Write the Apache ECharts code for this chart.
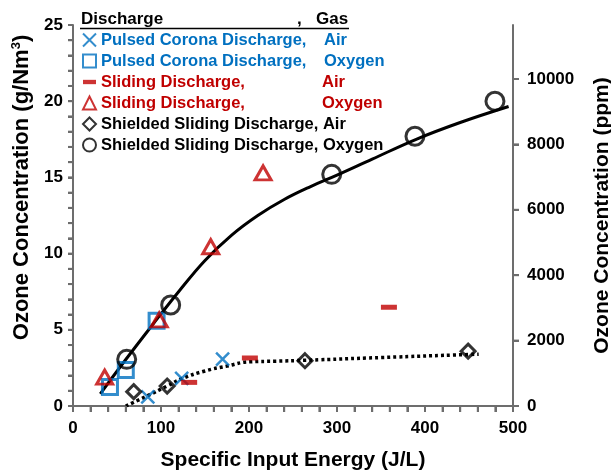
<!DOCTYPE html>
<html>
<head>
<meta charset="utf-8">
<script src="https://cdn.jsdelivr.net/npm/echarts@6/dist/echarts.min.js"></script>
<style>
  html, body { margin: 0; padding: 0; background: #fff; }
  #chart { width: 611px; height: 471px; }
</style>
</head>
<body>
<div id="chart"></div>
<script>
// measured points [energy J/L, ozone g/Nm3]
var pulsedAir = [[85, 0.6], [123.5, 1.82], [170, 3.08]];
var pulsedO2 = [[42, 1.25], [60, 2.36], [95, 5.6]];
var slidingAir = [[132, 1.55], [201, 3.15], [359, 6.48]];
var slidingO2 = [[36, 1.9], [98, 5.65], [156.5, 10.45], [216, 15.3]];
var shieldedAir = [[69, 0.94], [107, 1.31], [263.6, 2.97], [449, 3.6]];
var shieldedO2 = [[61, 3.06], [111, 6.63], [294, 15.2], [388.6, 17.7], [479.5, 20.0]];

// trend lines
var fitO2 = [[31, 0.8], [60, 3.05], [90, 5.3], [120, 7.5], [150, 9.55], [180, 11.2], [210, 12.5],
             [240, 13.55], [270, 14.4], [300, 15.15], [340, 16.2], [390, 17.5], [440, 18.6], [495, 19.65]];
var fitAir = [[60, 0], [85, 0.68], [107, 1.31], [124, 1.8], [150, 2.3], [175, 2.62], [201, 2.9],
              [230, 2.94], [264, 3.0], [350, 3.18], [450, 3.38], [461, 3.4]];

// tick positions
var xTicks = [0, 20, 40, 60, 80, 100, 120, 140, 160, 180, 200, 220, 240, 260, 280, 300,
              320, 340, 360, 380, 400, 420, 440, 460, 480, 500];
var yTicks = [0, 1, 2, 3, 4, 5, 6, 7, 8, 9, 10, 11, 12, 13, 14, 15, 16, 17, 18, 19, 20, 21, 22, 23, 24, 25];
var ppmTicks = [0, 2000, 4000, 6000, 8000, 10000];

var xMax = 500, yMax = 25, ppmMax = 11651;

var blue = '#0070C0', red = '#C00000', black = '#000';
var axisColor = '#6d6d6d';
var font = 'Liberation Sans, Arial, sans-serif';

var names = ['Pulsed Corona Discharge, Air', 'Pulsed Corona Discharge, Oxygen',
             'Sliding Discharge, Air', 'Sliding Discharge, Oxygen',
             'Shielded Sliding Discharge, Air', 'Shielded Sliding Discharge, Oxygen'];

function hollow(c) {
    return { color: 'rgba(0,0,0,0)', borderColor: c, borderWidth: 3 };
}

// axis ticks drawn through the axis scales (dx,dy = tick direction and length)
function tickSeries(vals, axisIdx, toPoint, dx, dy) {
    return {
        type: 'custom', yAxisIndex: axisIdx, silent: true, clip: false, z: 3,
        data: vals.map(toPoint),
        renderItem: function (params, api) {
            var p = api.coord([api.value(0), api.value(1)]);
            return {
                type: 'line',
                shape: { x1: p[0], y1: p[1], x2: p[0] + dx, y2: p[1] + dy },
                style: { stroke: axisColor, lineWidth: 2 }
            };
        }
    };
}

var tickLine = { color: axisColor, width: 2 };

var myChart = echarts.init(document.getElementById('chart'));
myChart.setOption({
    animation: false,
    textStyle: { fontFamily: font },
    grid: { left: 73, right: 98, top: 25, bottom: 65, outerBoundsMode: 'none', containLabel: false },
    graphic: [
        { type: 'text', left: 81, top: 11, style: { text: 'Discharge', fontSize: 17, fontWeight: 'bold', fontFamily: font, fill: '#000' } },
        { type: 'text', left: 297, top: 11, style: { text: ',', fontSize: 17, fontWeight: 'bold', fontFamily: font, fill: '#000' } },
        { type: 'text', left: 316, top: 11, style: { text: 'Gas', fontSize: 17, fontWeight: 'bold', fontFamily: font, fill: '#000' } },
        { type: 'line', shape: { x1: 80, y1: 28.5, x2: 349, y2: 28.5 }, style: { stroke: '#000', lineWidth: 1.5 } }
    ],
    legend: {
        left: 82, top: 31, padding: 0,
        orient: 'vertical',
        itemWidth: 13, itemHeight: 13,
        itemGap: 3,
        data: [
            { name: names[0], textStyle: { color: blue } },
            { name: names[1], textStyle: { color: blue } },
            { name: names[2], textStyle: { color: red }, icon: 'path://M0,0L0,0M0,12L0,12M0,4L12,4L12,8L0,8Z' },
            { name: names[3], textStyle: { color: red } },
            { name: names[4], textStyle: { color: black } },
            { name: names[5], textStyle: { color: black } }
        ],
        formatter: function (name) {
            var p = name.split(', ');
            if (name.indexOf('Shielded') === 0) return '{s|' + name + '}';
            var k = name.indexOf('Pulsed') === 0 ? 'a' : 'r';
            return '{' + k + '|' + p[0] + ',}{g|' + p[1] + '}';
        },
        textStyle: {
            fontSize: 16.5, fontWeight: 'bold', fontFamily: font, lineHeight: 18,
            rich: {
                a: { width: 223, fontSize: 16.5, fontWeight: 'bold', fontFamily: font, lineHeight: 18 },
                r: { width: 221, fontSize: 16.5, fontWeight: 'bold', fontFamily: font, lineHeight: 18 },
                g: { fontSize: 16.5, fontWeight: 'bold', fontFamily: font, lineHeight: 18 },
                s: { fontSize: 16.5, fontWeight: 'bold', fontFamily: font, lineHeight: 18 }
            }
        }
    },
    xAxis: {
        type: 'value', min: 0, max: xMax, interval: 100,
        name: 'Specific Input Energy (J/L)',
        nameLocation: 'middle', nameGap: 44,
        nameTextStyle: { fontSize: 21, fontWeight: 'bold', color: '#000' },
        axisLine: { show: true, onZero: false, lineStyle: { color: axisColor, width: 2 } },
        axisTick: { show: true, length: 6, lineStyle: tickLine },
        minorTick: { show: true, splitNumber: 5, length: 6, lineStyle: tickLine },
        axisLabel: { margin: 14, fontSize: 17, fontWeight: 'bold', color: '#000' },
        splitLine: { show: false }
    },
    yAxis: [
        {
            type: 'value', min: 0, max: yMax, interval: 5,
            name: 'Ozone Concentration (g/Nm{sup|3})',
            nameLocation: 'middle', nameGap: 40, nameRotate: 90,
            nameTextStyle: {
                fontSize: 22, fontWeight: 'bold', color: '#000', padding: [0, 0, 0, 56],
                rich: { sup: { fontSize: 13, fontWeight: 'bold', verticalAlign: 'top', padding: [0, 0, 10, 0] } }
            },
            axisLine: { show: true, onZero: false, lineStyle: { color: axisColor, width: 2 } },
            axisTick: { show: true, length: 5, lineStyle: tickLine },
            minorTick: { show: true, splitNumber: 5, length: 5, lineStyle: tickLine },
            axisLabel: { margin: 10, fontSize: 17, fontWeight: 'bold', color: '#000' },
            splitLine: { show: false }
        },
        {
            type: 'value', min: 0, max: ppmMax, position: 'right',
            name: 'Ozone Concentration (ppm)',
            nameLocation: 'middle', nameGap: 79, nameRotate: 90,
            nameTextStyle: { fontSize: 21, fontWeight: 'bold', color: '#000' },
            axisLine: { show: true, onZero: false, lineStyle: { color: axisColor, width: 2 } },
            axisTick: { show: true, length: 6, customValues: ppmTicks, lineStyle: tickLine },
            minorTick: { show: false },
            axisLabel: {
                margin: 14, fontSize: 17, fontWeight: 'bold', color: '#000', customValues: ppmTicks,
                formatter: function (v) { return String(v); }
            },
            splitLine: { show: false }
        }
    ],
    series: [
        tickSeries(xTicks, 0, function (v) { return [v, 0]; }, 0, 6),
        tickSeries(yTicks, 0, function (v) { return [0, v]; }, -5, 0),
        tickSeries(ppmTicks, 1, function (v) { return [xMax, v]; }, 6, 0),
        {
            name: 'fit O2', type: 'line', data: fitO2, smooth: 0.4, showSymbol: false,
            lineStyle: { color: '#000', width: 3 }, z: 1
        },
        {
            name: 'fit air', type: 'line', data: fitAir, smooth: true, showSymbol: false,
            lineStyle: { color: '#000', width: 3.5, type: [3, 3] }, z: 1
        },
        {
            name: names[0], type: 'scatter', data: pulsedAir,
            symbol: 'path://M0,0L10,10M10,0L0,10', symbolSize: 13,
            itemStyle: { color: blue, borderColor: blue, borderWidth: 2.5 }
        },
        {
            name: names[1], type: 'scatter', data: pulsedO2,
            symbol: 'rect', symbolSize: 15, itemStyle: hollow(blue)
        },
        {
            name: names[2], type: 'scatter', data: slidingAir,
            symbol: 'rect', symbolSize: [16, 5], itemStyle: { color: red }
        },
        {
            name: names[3], type: 'scatter', data: slidingO2,
            symbol: 'triangle', symbolSize: [16, 14], itemStyle: hollow(red)
        },
        {
            name: names[4], type: 'scatter', data: shieldedAir,
            symbol: 'diamond', symbolSize: 14, itemStyle: hollow(black)
        },
        {
            name: names[5], type: 'scatter', data: shieldedO2,
            symbol: 'circle', symbolSize: 18, itemStyle: hollow(black)
        }
    ]
});
</script>
</body>
</html>
